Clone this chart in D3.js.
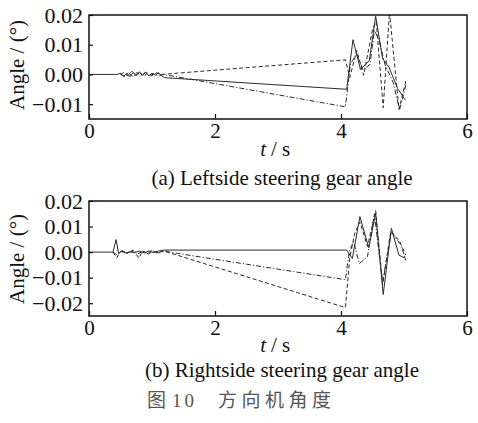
<!DOCTYPE html>
<html>
<head>
<meta charset="utf-8">
<script src="https://cdn.jsdelivr.net/npm/d3@7"></script>
<style>
  body { margin: 0; background: #fff; }
  text { font-family: "Liberation Serif", "Times New Roman", serif; fill: #111; }
</style>
</head>
<body>
<svg id="chart" width="478" height="423"></svg>
<script>
// tick labels
const xTicks = [0, 2, 4, 6]
const yTicksA = [0.02, 0.01, 0.00, -0.01]
const yTicksB = [0.02, 0.01, 0.00, -0.01, -0.02]

// (a) leftside: [t, angle]
const leftSolid = [
  [0, 0], [0.45, 0], [0.5, 0.0004], [0.55, -0.0007], [0.6, 0.0005], [0.65, -0.0008],
  [0.7, 0.0006], [0.75, -0.0004], [0.8, 0.0009], [0.85, -0.0003], [0.9, 0.0007],
  [0.95, -0.0005], [1.0, 0.0004], [1.05, -0.0003], [1.1, 0.0006], [1.15, -0.0004],
  [1.2, -0.0011], [4.09, -0.005], [4.19, 0.0117], [4.31, 0.0016], [4.45, 0.0047],
  [4.55, 0.0196], [4.66, 0.0053], [4.76, 0.0025], [4.9, -0.0048], [5.02, -0.0086]
]
const leftDash = [
  [0.5, 0], [0.55, 0.0006], [0.62, -0.0005], [0.68, 0.0011], [0.74, -0.0003],
  [0.8, 0.0007], [0.87, -0.0006], [0.93, 0.0005], [1.0, -0.0004], [1.07, 0.0005],
  [1.15, 0], [4.07, 0.0049], [4.14, -0.001], [4.25, 0.0081], [4.36, -0.0003],
  [4.5, 0.0152], [4.56, 0.0178], [4.67, -0.0112], [4.77, 0.021], [4.92, -0.0118],
  [5.03, -0.0022]
]
const leftDot = [
  [0.5, 0], [0.57, -0.0007], [0.63, 0.0005], [0.7, -0.0009], [0.76, 0.0007],
  [0.82, -0.0005], [0.9, 0.0008], [0.96, -0.0007], [1.03, 0.0003], [1.1, -0.0006],
  [1.18, 0], [4.07, -0.0109], [4.15, 0.0035], [4.25, 0.0068], [4.35, 0.0015],
  [4.46, 0.0034], [4.53, 0.0148], [4.6, 0.0118], [4.7, 0.0032], [4.83, -0.0028],
  [4.93, -0.0118], [5.03, -0.0036]
]

// (b) rightside: [t, angle]
const rightSolid = [
  [0, 0], [0.38, 0], [0.43, 0.0049], [0.47, -0.0005], [0.52, 0.0004], [0.58, -0.0003],
  [0.65, 0.0001], [0.72, -0.0002], [0.8, 0.0004], [0.88, -0.0003], [0.95, 0.0005],
  [1.02, -0.0002], [1.1, 0.0004], [1.2, 0.0008], [4.09, 0.0008], [4.18, -0.0025],
  [4.3, 0.0139], [4.44, 0.0017], [4.55, 0.0152], [4.67, -0.0166], [4.8, 0.0093],
  [4.92, -0.0012], [5.03, -0.0025]
]
const rightDash = [
  [0.38, 0], [0.44, -0.0022], [0.5, 0.0003], [0.6, -0.0004], [0.68, 0.0006],
  [0.75, -0.0008], [0.79, -0.0024], [0.85, 0.0005], [0.92, -0.0006], [1.0, 0.0007],
  [1.08, -0.0004], [1.18, 0.0005], [4.07, -0.0217], [4.14, -0.002], [4.22, 0.0075],
  [4.3, 0.0118], [4.42, 0.0022], [4.55, 0.0163], [4.66, -0.0128], [4.79, 0.0082],
  [4.93, 0.0042], [5.03, -0.0012]
]
const rightDot = [
  [0.38, 0], [0.45, -0.0012], [0.52, 0.0006], [0.62, -0.0005], [0.7, 0.0008],
  [0.78, -0.0006], [0.86, 0.0004], [0.94, -0.0008], [1.02, 0.0005], [1.1, -0.0003],
  [1.2, 0.0003], [4.07, -0.0108], [4.13, 0.0002], [4.2, 0.0042], [4.29, -0.0045],
  [4.42, -0.0018], [4.53, 0.0148], [4.66, -0.0118], [4.8, 0.0079], [4.95, 0.0028],
  [5.03, -0.0032]
]

const svg = d3.select('#chart')
const serif = '"Liberation Serif", "Times New Roman", serif'

function drawPanel (opt) {
  const x = d3.scaleLinear().domain([0, 6]).range([89, 467])
  const y = d3.scaleLinear().domain(opt.yDomain).range([opt.bottom, opt.top])

  const g = svg.append('g')
  const clipId = 'clip' + opt.id
  g.append('clipPath').attr('id', clipId)
    .append('rect')
    .attr('x', x(0)).attr('y', opt.top)
    .attr('width', x(6) - x(0)).attr('height', opt.bottom - opt.top)

  const line = d3.line().x(d => x(d[0])).y(d => y(d[1]))
  const series = [
    { data: opt.solid, dash: null },
    { data: opt.dash, dash: '4,2.5' },
    { data: opt.dot, dash: '5,2,1.2,2' }
  ]
  g.append('g').attr('clip-path', 'url(#' + clipId + ')')
    .selectAll('path')
    .data(series)
    .join('path')
    .attr('d', d => line(d.data))
    .attr('fill', 'none')
    .attr('stroke', '#2a2a2a')
    .attr('stroke-width', 1)
    .attr('stroke-dasharray', d => d.dash)

  // ticks point inward
  const xAxis = d3.axisBottom(x).tickValues(xTicks).tickSizeInner(-5).tickSizeOuter(0)
    .tickPadding(9).tickFormat(d3.format('d'))
  const gx = g.append('g').attr('transform', 'translate(0,' + opt.bottom + ')').call(xAxis)
  gx.selectAll('.tick text').attr('font-size', 21).attr('dy', null).attr('y', 19)
  const yAxis = d3.axisLeft(y).tickValues(opt.yTicks).tickSizeInner(-4).tickSizeOuter(0)
    .tickPadding(5).tickFormat(d => d3.format('.2f')(d).replace('-', '\u2212'))
  const gy = g.append('g').attr('transform', 'translate(' + x(0) + ',0)').call(yAxis)
  gy.selectAll('.tick text').attr('font-size', 22).attr('x', -6)
  for (const ax of [gx, gy]) {
    ax.attr('font-family', serif)
    ax.select('.domain').remove()
    ax.selectAll('.tick line').attr('stroke', '#111').attr('stroke-width', 1.2)
    ax.selectAll('.tick text').attr('fill', '#111')
  }

  g.append('rect')
    .attr('x', x(0)).attr('y', opt.top)
    .attr('width', x(6) - x(0)).attr('height', opt.bottom - opt.top)
    .attr('fill', 'none').attr('stroke', '#111').attr('stroke-width', 1.5)

  g.append('text')
    .attr('transform', 'translate(24,' + opt.labelY + ') rotate(-90)')
    .attr('text-anchor', 'middle')
    .attr('font-size', 21)
    .text('Angle / (°)')

  // axis title "t / s", italic t
  g.append('text')
    .attr('x', 266).attr('y', opt.bottom + opt.tsY)
    .attr('text-anchor', 'end')
    .attr('font-size', 21)
    .attr('font-style', 'italic')
    .text('t')
  g.append('text')
    .attr('x', 271).attr('y', opt.bottom + opt.tsY)
    .attr('font-size', 21)
    .text('/ s')

  g.append('text')
    .attr('x', 282).attr('y', opt.bottom + opt.capY)
    .attr('text-anchor', 'middle')
    .attr('font-size', 21)
    .text(opt.caption)
}

drawPanel({
  id: 'a', top: 15, bottom: 119, yDomain: [-0.015, 0.02], yTicks: yTicksA,
  solid: leftSolid, dash: leftDash, dot: leftDot, labelY: 65, tsY: 37, capY: 66,
  caption: '(a) Leftside steering gear angle'
})
drawPanel({
  id: 'b', top: 201, bottom: 316, yDomain: [-0.025, 0.02], yTicks: yTicksB,
  solid: rightSolid, dash: rightDash, dot: rightDot, labelY: 259, tsY: 36, capY: 61,
  caption: '(b) Rightside steering gear angle'
})

const fig = svg.append('text')
  .attr('x', 147).attr('y', 407)
  .attr('font-size', 19)
  .style('fill', '#555')
fig.append('tspan')
  .style('font-family', '"Noto Sans CJK SC", sans-serif')
  .style('fill', '#555')
  .text('图')
fig.append('tspan').attr('dx', 6)
  .attr('letter-spacing', 3)
  .style('font-family', serif)
  .style('fill', '#555')
  .text('10')
fig.append('tspan').attr('dx', 21)
  .attr('letter-spacing', 4.5)
  .style('font-family', '"Noto Sans CJK SC", sans-serif')
  .style('fill', '#555')
  .text('方向机角度')
</script>
</body>
</html>
